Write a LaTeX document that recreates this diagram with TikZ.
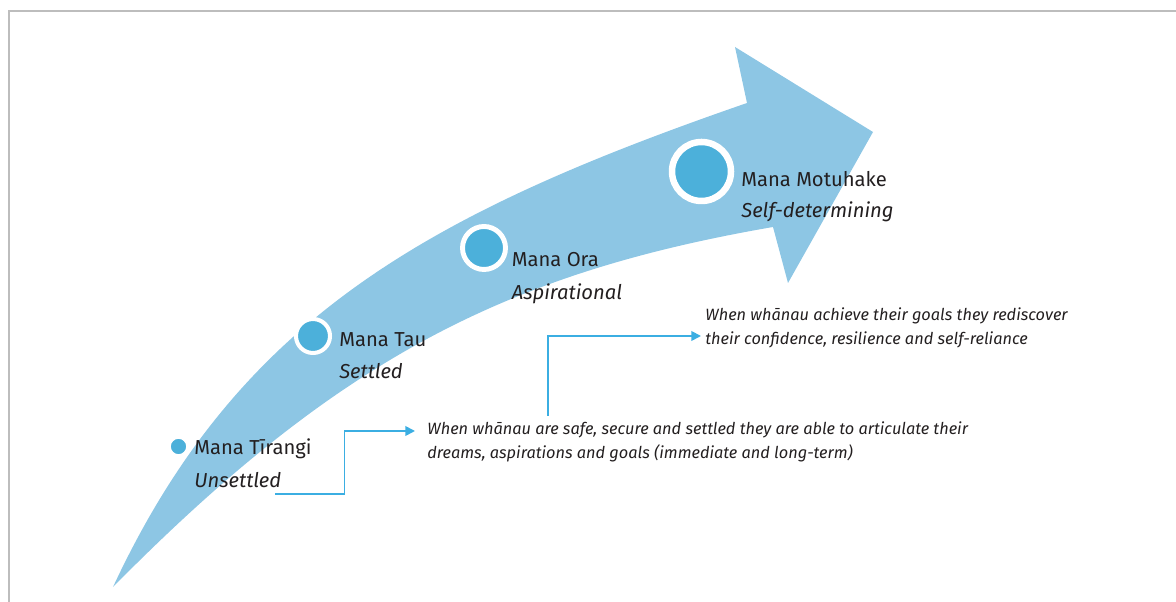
\documentclass[tikz,border=0pt]{standalone}
\RequirePackage{fontspec}
\RequirePackage{tikz}
\RequirePackage{tkz-euclide}
\usetikzlibrary{calc}
\usetikzlibrary{arrows.meta}
\setmainfont{Fira Sans}

\definecolor{bandblue}{HTML}{8DC6E4}
\definecolor{dotblue}{HTML}{4CB0DA}
\definecolor{linkblue}{HTML}{3BAEE2}
\definecolor{inkgrey}{HTML}{231F20}
\definecolor{framegrey}{HTML}{BDBDBD}

\tikzset{
    stage/.style={anchor=base west,inner sep=0pt,text=inkgrey,font=\fontsize{11.5}{14}\selectfont},
    stagesub/.style={stage,font=\fontsize{11.5}{14}\selectfont\itshape},
    note/.style={anchor=north west,inner sep=0pt,align=left,text=inkgrey,font=\fontsize{9.3}{13.6}\selectfont\itshape},
    link/.style={linkblue,line width=1pt,-{Triangle[length=5.5pt,width=5.5pt]}},
    dot/.style={fill=dotblue,draw=white},
}

\begin{document}
\begin{tikzpicture}
                \useasboundingbox (0,0) rectangle (23.52,12.04);
                \draw[framegrey,line width=0.6pt] (0.18,0) -- (0.18,11.82) -- (23.52,11.82);

                \tkzDefPoint(2.26,0.30){T}
                \tkzDefPoint(4.76,5.66){U1}
                \tkzDefPoint(8.52,7.76){U2}
                \tkzDefPoint(14.94,9.98){N1}
                \tkzDefPoint(14.70,11.10){H1}
                \tkzDefPoint(17.46,9.40){Tip}
                \tkzDefPoint(15.76,6.38){H2}
                \tkzDefPoint(15.46,7.50){N2}
                \tkzDefPoint(10.14,6.58){L1}
                \tkzDefPoint(6.78,4.88){L2}

                \fill[bandblue] (T) .. controls (U1) and (U2) .. (N1) -- (H1) -- (Tip)
                    -- (H2) -- (N2) .. controls (L1) and (L2) .. (T) -- cycle;

                \tkzDefPoint(3.57,3.11){P1}
                \tkzDefPoint(6.26,5.32){P2}
                \tkzDefPoint(9.68,7.08){P3}
                \tkzDefPoint(14.03,8.61){P4}

                \draw[dot,line width=0.9pt] (P1) circle (0.17);
                \draw[dot,line width=2.3pt] (P2) circle (0.34);
                \draw[dot,line width=2.8pt] (P3) circle (0.43);
                \draw[dot,line width=3.7pt] (P4) circle (0.59);

                \node[stage] (tirangi) at (3.88,2.94) {Mana Tīrangi};
                \node[stagesub] (unsettled) at ([yshift=-0.66cm]tirangi.base west) {Unsettled};
                \node[stage] (tau) at (6.78,5.11) {Mana Tau};
                \node[stagesub] (settled) at ([yshift=-0.65cm]tau.base west) {Settled};
                \node[stage] (ora) at (10.23,6.71) {Mana Ora};
                \node[stagesub] (aspirational) at ([yshift=-0.66cm]ora.base west) {Aspirational};
                \node[stage] (motuhake) at (14.82,8.31) {Mana Motuhake};
                \node[stagesub] (selfdet) at ([yshift=-0.63cm]motuhake.base west) {Self-determining};

                \node[note] (msg1) at (8.54,3.61) {When whānau are safe, secure and settled they are able to articulate their\\dreams, aspirations and goals (immediate and long-term)};
                \node[note] (msg2) at (14.10,5.89) {When whānau achieve their goals they rediscover\\their confidence, resilience and self-reliance};

                \tkzDefPoint(5.50,2.16){S1}
                \tkzDefPoint(6.89,3.42){K1}
                \tkzDefPoint(8.30,3.42){A1}
                \tkzDefPoint(10.96,3.72){S2}
                \tkzDefPoint(14.02,5.32){A2}

                \draw[link] (S1) -| (K1) -- (A1);
                \draw[link] (S2) |- (A2);
\end{tikzpicture}
\end{document}
